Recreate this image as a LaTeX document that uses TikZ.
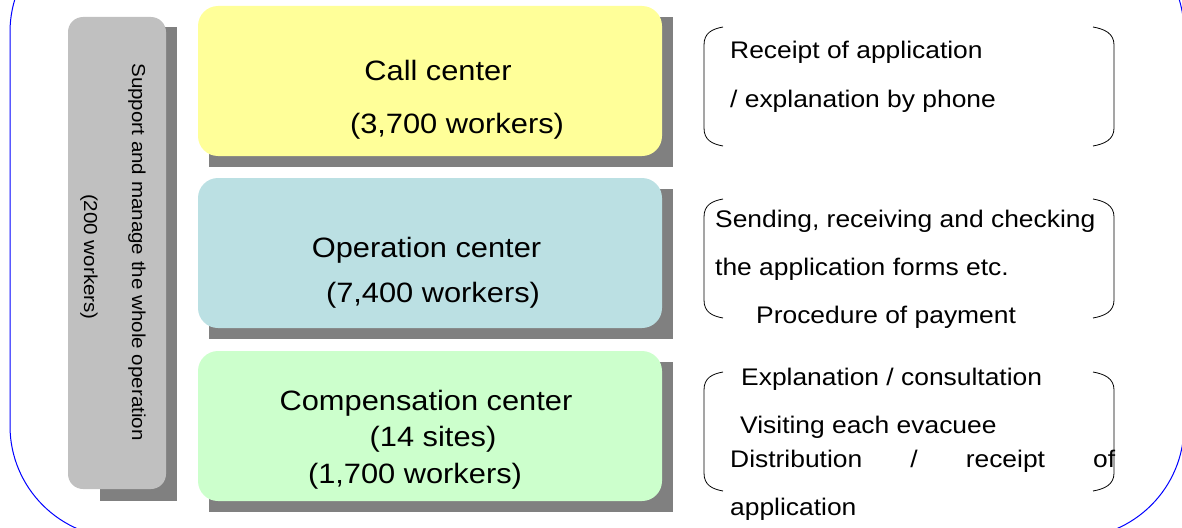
\documentclass[tikz,border=0pt]{standalone}
\usepackage{fontspec}
\setmainfont{Liberation Sans}[FakeStretch=1.1]
\definecolor{shadowgrey}{HTML}{808080}
\definecolor{bargrey}{HTML}{C0C0C0}
\definecolor{callyellow}{HTML}{FFFF99}
\definecolor{opblue}{HTML}{BBE0E3}
\definecolor{compgreen}{HTML}{CCFFCC}
\definecolor{outlineblue}{HTML}{0000FF}
\newcommand\parenpair[2]{%
  \draw[brk] (723,#1) .. controls (712,{#1+2}) and (704,{#1+6}) .. (704,{#1+18}) -- (704,{#2-18}) .. controls (704,{#2-6}) and (712,{#2-2}) .. (723,#2);
  \draw[brk] (1093,#1) .. controls (1104,{#1+2}) and (1114,{#1+6}) .. (1114,{#1+18}) -- (1114,{#2-18}) .. controls (1114,{#2-6}) and (1104,{#2-2}) .. (1093,#2);
}
\begin{document}
\begin{tikzpicture}[x=1pt,y=-1pt,
  shadowbox/.style={fill=shadowgrey, draw=none, inner sep=0pt, outer sep=0pt},
  centerbox/.style={rounded corners=20pt, draw=none, inner sep=0pt, minimum width=464pt, minimum height=150pt},
  ctr/.style={anchor=base, inner sep=0pt, font=\fontsize{28}{32}\selectfont},
  lbl/.style={anchor=base west, inner sep=0pt, font=\fontsize{24}{28}\selectfont},
  vlbl/.style={anchor=center, inner sep=0pt, rotate=-90, font=\fontsize{18.7}{22}\selectfont},
  brk/.style={draw=black, line width=0.8pt}]
\useasboundingbox (0,0) rectangle (1182,527);
\begin{scope}
  \clip (0,0) rectangle (1182,527);
  \draw[outlineblue, line width=1pt]
    (10,300) -- (10,32) arc[start angle=180, end angle=270, radius=112]
    -- (1072,-80) arc[start angle=270, end angle=360, radius=112]
    -- (1184,426) arc[start angle=0, end angle=90, radius=112]
    -- (122,538) arc[start angle=90, end angle=180, radius=112] -- cycle;
\end{scope}
% support bar
\node[shadowbox, minimum width=77pt, minimum height=474pt] (barshadow) at (138.5,264) {};
\node[fill=bargrey, rounded corners=15pt, inner sep=0pt, minimum width=98pt, minimum height=472pt] (bar) at (117,253) {};
\node[vlbl] (bartext1) at (137,252) {Support and manage the whole operation};
\node[vlbl] (bartext2) at (89,257) {(200 workers)};
% center boxes
\node[shadowbox, minimum width=464pt, minimum height=150pt] (callshadow) at (441,92) {};
\node[centerbox, fill=callyellow] (call) at (430,81) {};
\node[shadowbox, minimum width=464pt, minimum height=150pt] (opshadow) at (441,264) {};
\node[centerbox, fill=opblue] (op) at (430,253) {};
\node[shadowbox, minimum width=464pt, minimum height=150pt] (compshadow) at (441,437) {};
\node[centerbox, fill=compgreen] (comp) at (430,426) {};
\node[ctr] (callt1) at (438,80) {Call center};
\node[ctr] (callt2) at (457,133) {(3,700 workers)};
\node[ctr] (opt1) at (426.5,257) {Operation center};
\node[ctr] (opt2) at (433,302) {(7,400 workers)};
\node[ctr] (compt1) at (426,410) {Compensation center};
\node[ctr] (compt2) at (433,446) {(14 sites)};
\node[ctr] (compt3) at (415,483) {(1,700 workers)};
% brackets
\parenpair{27}{146}
\parenpair{199}{318}
\parenpair{372}{491}
% right-side texts
\node[lbl] (r1a) at (730,59) {Receipt of application};
\node[lbl] (r1b) at (730,107) {/ explanation by phone};
\node[lbl] (r2a) at (715,227) {Sending, receiving and checking};
\node[lbl] (r2b) at (715,275) {the application forms etc.};
\node[lbl] (r2c) at (756,323) {Procedure of payment};
\node[lbl] (r3a) at (741,385) {Explanation / consultation};
\node[lbl] (r3b) at (740,433) {Visiting each evacuee};
\node[lbl] (r3c) at (730,467) {\makebox[385pt][s]{Distribution / receipt of}};
\node[lbl] (r3d) at (730,515) {application};
\end{tikzpicture}
\end{document}
